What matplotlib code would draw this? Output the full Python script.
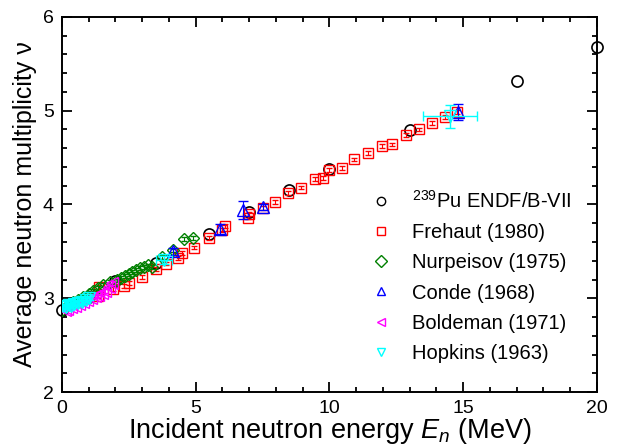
import matplotlib
matplotlib.use('Agg')
import matplotlib.pyplot as plt
from matplotlib.lines import Line2D
import numpy as np

plt.rcParams['font.family'] = ['Liberation Sans', 'DejaVu Sans']
plt.rcParams['mathtext.fontset'] = 'custom'
plt.rcParams['mathtext.rm'] = 'Liberation Sans'
plt.rcParams['mathtext.it'] = 'Liberation Sans:italic'

# ENDF/B-VII evaluation
endf_e = [0.0, 1.0, 2.0, 3.5, 5.5, 7.0, 8.5, 10.0, 13.0, 17.0, 20.0]
endf_nu = [2.88, 3.01, 3.18, 3.38, 3.68, 3.92, 4.15, 4.38, 4.79, 5.32, 5.68]

# Frehaut (1980)
freh_e = [1.35, 1.4, 1.9, 2.3, 2.5, 3.0, 3.5, 3.9, 4.35, 4.5, 4.95, 5.5, 6.0, 6.1,
          6.95, 7.0, 7.5, 7.95, 8.45, 8.95, 9.45, 9.75, 10.0, 10.45, 10.9, 11.45,
          11.95, 12.35, 12.85, 13.35, 13.85, 14.3, 14.75]
freh_nu = [3.02, 3.12, 3.10, 3.13, 3.16, 3.23, 3.31, 3.37, 3.43, 3.48, 3.54, 3.64,
           3.73, 3.77, 3.86, 3.90, 3.96, 4.03, 4.12, 4.18, 4.27, 4.28, 4.37, 4.39,
           4.48, 4.55, 4.62, 4.64, 4.74, 4.80, 4.87, 4.93, 4.99]

# Nurpeisov (1975)
nurp_e = [0.0, 0.2, 0.4, 0.6, 0.8, 1.0, 1.15, 1.35, 1.55, 1.8, 2.05, 2.2, 2.35,
          2.5, 2.6, 2.75, 2.9, 3.05, 3.2, 3.36, 3.74, 4.15, 4.55, 4.9]
nurp_nu = [2.88, 2.92, 2.96, 2.98, 3.01, 3.05, 3.08, 3.11, 3.14, 3.17, 3.19, 3.22,
           3.24, 3.26, 3.28, 3.30, 3.32, 3.33, 3.35, 3.33, 3.44, 3.51, 3.63, 3.64]

# Conde (1968)
conde_e = [4.15, 5.9, 6.75, 7.5, 14.8]
conde_nu = [3.50, 3.74, 3.94, 3.97, 4.99]
conde_err = [0.04, 0.05, 0.10, 0.03, 0.085]

# Boldeman (1971)
bold_e = [0.1, 0.2, 0.35, 0.5, 0.65, 0.8, 0.95, 1.1, 1.25, 1.35, 1.5, 1.6, 1.75, 1.87]
bold_nu = [2.88, 2.89, 2.91, 2.92, 2.94, 2.96, 2.98, 3.0, 3.02, 3.03, 3.06, 3.08,
           3.12, 3.16]

# Hopkins (1963)
hop_e = [0.05, 0.15, 0.25, 0.35, 0.45, 0.6, 0.75, 0.9, 1.0, 3.8, 14.5]
hop_nu = [2.92, 2.91, 2.93, 2.92, 2.94, 2.95, 2.96, 2.98, 3.0, 3.41, 4.94]
hop_xerr = [0.05, 0.05, 0.05, 0.05, 0.05, 0.05, 0.05, 0.05, 0.05, 0.3, 1.0]
hop_yerr = [0.02, 0.02, 0.02, 0.02, 0.02, 0.02, 0.02, 0.02, 0.02, 0.04, 0.12]

labels = [r'$^{239}$Pu ENDF/B-VII', 'Frehaut (1980)', 'Nurpeisov (1975)',
          'Conde (1968)', 'Boldeman (1971)', 'Hopkins (1963)']
colors = ['black', 'red', 'green', 'blue', 'magenta', 'cyan']
markers = ['o', 's', 'D', '^', '<', 'v']

fig = plt.figure(figsize=(6.18, 4.45), dpi=100)
ax = fig.add_axes([0.1003, 0.119, 0.8657, 0.843])

ax.plot(endf_e, endf_nu, 'o', mfc='none', mec='black', ms=8, mew=1.2,
        clip_on=False, zorder=2)
ax.errorbar(freh_e, freh_nu, yerr=0.02, fmt='s', mfc='none', mec='red', ms=7,
            mew=1.0, ecolor='red', elinewidth=0.8, capsize=2,  zorder=3)
ax.errorbar(nurp_e, nurp_nu, yerr=0.02, fmt='D', mfc='none', mec='green', ms=6,
            mew=1.0, ecolor='green', elinewidth=0.8, capsize=2, zorder=4)
ax.errorbar(conde_e, conde_nu, yerr=conde_err, fmt='^', mfc='none', mec='blue',
            ms=8, mew=1.0, ecolor='blue', elinewidth=0.8, capsize=3.5, zorder=5)
ax.errorbar(bold_e, bold_nu, yerr=0.02, fmt='<', mfc='none', mec='magenta',
            ms=8, mew=1.0, ecolor='magenta', elinewidth=0.8, capsize=2, zorder=6)
ax.errorbar(hop_e, hop_nu, xerr=hop_xerr, yerr=hop_yerr, fmt='v', mfc='none',
            mec='cyan', ms=8, mew=1.0, ecolor='cyan', elinewidth=1.0,
            capsize=3.5, zorder=7)

ax.set_xlim(0, 20)
ax.set_ylim(2, 6)
ax.set_xticks([0, 5, 10, 15, 20])
ax.set_xticks(np.arange(0, 21, 1), minor=True)
ax.set_yticks([2, 3, 4, 5, 6])
ax.set_yticks(np.arange(2, 6.01, 0.2), minor=True)
ax.tick_params(which='both', direction='in', top=True, right=True,
               labelsize=14, width=1.3)
ax.tick_params(which='major', length=7, pad=6)
ax.tick_params(which='minor', length=3.6)
for s in ax.spines.values():
    s.set_linewidth(1.4)

ax.set_xlabel(r'Incident neutron energy $E_n$ (MeV)', fontsize=19.5, labelpad=-1)
ax.set_ylabel('Average neutron multiplicity ν', fontsize=18, labelpad=4)

handles = [Line2D([], [], ls='none', marker=m, mfc='none', mec=c, ms=6, mew=1.0)
           for m, c in zip(markers, colors)]
ax.legend(handles, labels, loc='lower right', bbox_to_anchor=(0.985, 0.03),
          frameon=False, fontsize=14.5, handletextpad=0.9, labelspacing=0.55,
          handlelength=1.2)

fig.savefig('out.png', dpi=100)
